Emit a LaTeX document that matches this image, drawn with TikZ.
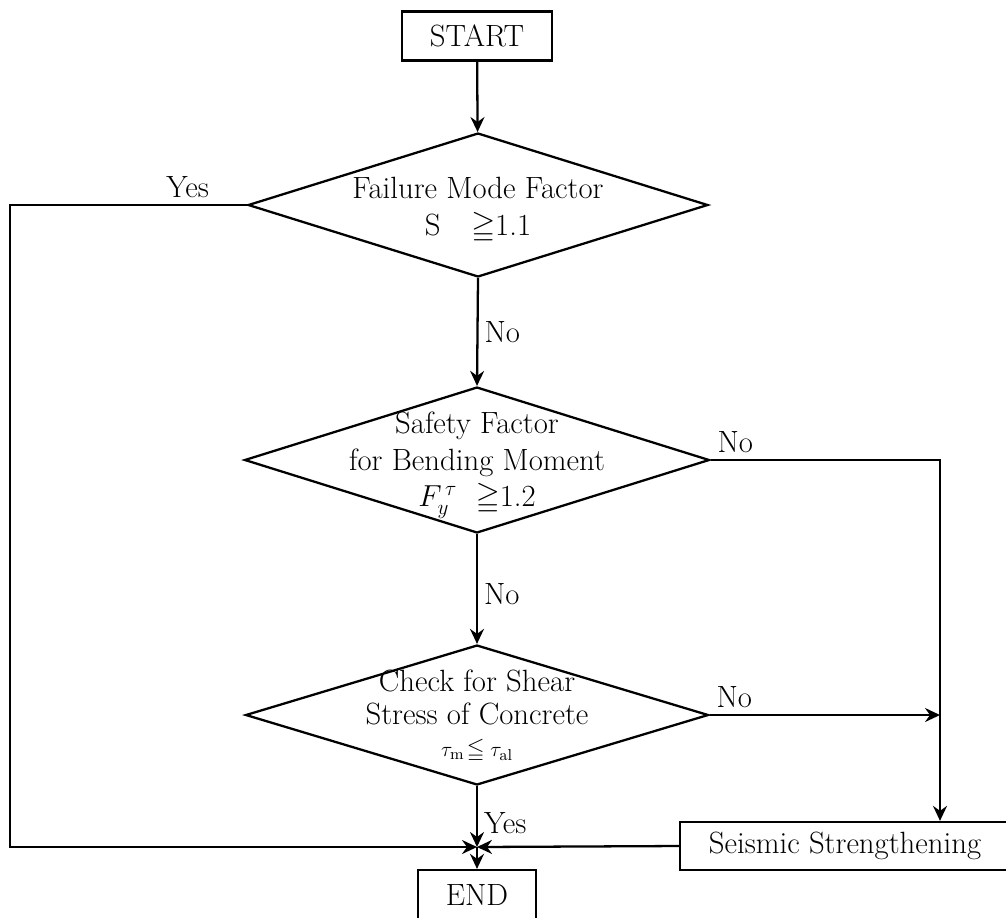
\documentclass[tikz,border=0pt]{standalone}
\usepackage{amssymb}
\usetikzlibrary{shapes.geometric,arrows.meta}
\begin{document}
\begin{tikzpicture}[x=0.02cm,y=-0.02cm,line width=1.3pt,
  >={Stealth[length=3mm,width=2.8mm,inset=1mm]},
  font=\fontsize{17.5}{21}\selectfont,
  stepbox/.style={draw,rectangle,inner sep=0pt},
  decision/.style={draw,diamond,inner sep=0pt}]
\useasboundingbox (0,0) rectangle (1006,917);
% boxes
\node[stepbox,minimum width=3cm,minimum height=0.98cm] (start) at (477,36) {START};
\node[stepbox,minimum width=6.6cm,minimum height=0.96cm] (seismic) at (845,846) {Seismic Strengthening};
\node[stepbox,minimum width=2.36cm,minimum height=1cm] (end) at (477,895) {END};
% decisions, text set on top
\node[decision,minimum width=9.2cm,minimum height=2.88cm] (fmf) at (478,205) {};
\node[align=center] (fmftxt) at (478,210) {Failure Mode Factor\\S\quad$\geqq$1.1};
\node[decision,minimum width=9.3cm,minimum height=2.92cm] (sfb) at (477,460) {};
\node[align=center] (sfbtxt) at (477,465) {Safety Factor\\for Bending Moment\\$F^{\,\tau}_{y}$\ \ $\geqq$1.2};
\node[decision,minimum width=9.26cm,minimum height=2.8cm] (shear) at (477,715) {};
\node[align=center] (sheartxt) at (477,716) {Check for Shear\\[-2pt]Stress of Concrete\\[-3pt]
  {\fontsize{13}{15}\selectfont$\tau_{\mathrm{m}}\!\leqq\tau_{\mathrm{al}}$}};
% junction above END and the right hand line
\coordinate (jn) at (477,847);
\coordinate (rc) at (940,0);
% connectors
\draw[->] (start) -- (fmf);
\draw[->] (fmf.south) -- node[right] (no1) {No} (sfb.north);
\draw[->] (sfb.south) -- node[pos=.55,right] (no2) {No} (shear.north);
\draw[->] (shear.south) -- node[pos=.6,right] (yes2) {Yes} (jn);
\draw[->] (fmf.west) -- node[pos=.25,above] (yes1) {Yes} ++(-237,0) |- (jn);
\draw[->] (sfb.east) -- node[pos=0,above right] (no3) {No} (sfb.east -| rc) -- (rc |- seismic.north);
\draw[->] (shear.east) -- node[pos=0,above right] (no4) {No} (shear.east -| rc);
\draw[->] (seismic.west) -- (jn);
\draw[->] (jn) -- (end.north);
\end{tikzpicture}
\end{document}
